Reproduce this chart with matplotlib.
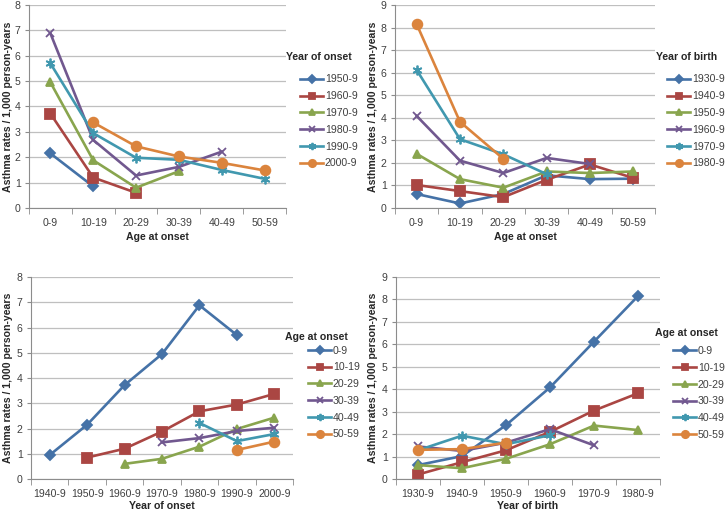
import numpy as np
import matplotlib
matplotlib.use("Agg")
import matplotlib.pyplot as plt

plt.rcParams['font.family'] = ['Liberation Sans', 'DejaVu Sans']

nan = np.nan

# panel A: rates by age at onset, per year of onset
age_groups = ["0-9", "10-19", "20-29", "30-39", "40-49", "50-59"]
onset_labels = ["1950-9", "1960-9", "1970-9", "1980-9", "1990-9", "2000-9"]
onset_1950 = [2.15, 0.85, nan, nan, nan, nan]
onset_1960 = [3.72, 1.20, 0.60, nan, nan, nan]
onset_1970 = [4.95, 1.88, 0.80, 1.45, nan, nan]
onset_1980 = [6.88, 2.68, 1.28, 1.62, 2.22, nan]
onset_1990 = [5.70, 2.95, 1.98, 1.90, 1.50, 1.15]
onset_2000 = [nan, 3.37, 2.43, 2.03, 1.78, 1.48]

# panel B: rates by age at onset, per year of birth
birth_labels = ["1930-9", "1940-9", "1950-9", "1960-9", "1970-9", "1980-9"]
birth_1930 = [0.62, 0.20, 0.62, 1.45, 1.28, 1.30]
birth_1940 = [1.02, 0.75, 0.48, 1.25, 1.93, 1.33]
birth_1950 = [2.40, 1.28, 0.90, 1.62, 1.55, 1.62]
birth_1960 = [4.08, 2.10, 1.55, 2.22, 1.95, nan]
birth_1970 = [6.12, 3.05, 2.38, 1.50, nan, nan]
birth_1980 = [8.15, 3.82, 2.18, nan, nan, nan]

# panel C: rates by year of onset, per age at onset
onset_decades = ["1940-9", "1950-9", "1960-9", "1970-9", "1980-9", "1990-9", "2000-9"]
c_age_0 = [0.95, 2.15, 3.72, 4.95, 6.88, 5.70, nan]
c_age_10 = [nan, 0.85, 1.20, 1.88, 2.68, 2.95, 3.37]
c_age_20 = [nan, nan, 0.60, 0.80, 1.28, 1.98, 2.43]
c_age_30 = [nan, nan, nan, 1.45, 1.62, 1.90, 2.03]
c_age_40 = [nan, nan, nan, nan, 2.22, 1.50, 1.78]
c_age_50 = [nan, nan, nan, nan, nan, 1.15, 1.48]

# panel D: rates by year of birth, per age at onset
d_age_0 = [0.62, 1.02, 2.40, 4.08, 6.12, 8.15]
d_age_10 = [0.20, 0.75, 1.28, 2.10, 3.05, 3.82]
d_age_20 = [0.62, 0.48, 0.90, 1.55, 2.38, 2.18]
d_age_30 = [1.45, 1.25, 1.62, 2.22, 1.50, nan]
d_age_40 = [1.28, 1.93, 1.55, 1.95, nan, nan]
d_age_50 = [1.30, 1.33, 1.62, nan, nan, nan]

colors = ["#4572A7", "#AA4643", "#89A54E", "#71588F", "#4198AF", "#DB843D"]
markers = ["D", "s", "^", "x", (6, 2, 0), "o"]
msizes = [5, 6.5, 6, 6, 7, 7]

W, H = 726, 511
fig = plt.figure(figsize=(W / 100, H / 100), dpi=100)

fs = 7.6
tick_color = "#404040"
axis_color = "#8c8c8c"
grid_color = "#bfbfbf"


def panel(box, cats, series, labels, ymax, xlabel, ylab_x, xpad, title, title_xy, leg_xy):
    l, r, t, b = box
    ax = fig.add_axes([l / W, 1 - b / H, (r - l) / W, (b - t) / H])
    x = np.arange(len(cats))
    for i, ys in enumerate(series):
        ax.plot(x, ys, color=colors[i], lw=1.9, marker=markers[i],
                ms=msizes[i], mew=1.3, label=labels[i])
    ax.set_xlim(-0.5, len(cats) - 0.5)
    ax.set_ylim(0, ymax)
    ax.set_yticks(range(ymax + 1))
    ax.set_xticks(x)
    ax.set_xticklabels(cats)
    ax.set_xticks(np.arange(len(cats) + 1) - 0.5, minor=True)
    ax.tick_params(axis="x", which="major", length=0, labelsize=fs,
                   colors=tick_color, pad=7)
    ax.tick_params(axis="x", which="minor", length=4, color=axis_color)
    ax.tick_params(axis="y", length=3, color=axis_color, labelsize=fs,
                   labelcolor=tick_color, pad=3)
    ax.grid(axis="y", color=grid_color, lw=0.9)
    ax.set_axisbelow(True)
    for s in ["top", "right"]:
        ax.spines[s].set_visible(False)
    for s in ["left", "bottom"]:
        ax.spines[s].set_color(axis_color)
    ax.set_xlabel(xlabel, fontsize=fs, fontweight="bold", color="#262626",
                  labelpad=xpad)
    ax.set_ylabel("Asthma rates / 1,000 person-years", fontsize=fs,
                  fontweight="bold", color="#262626")
    ax.yaxis.set_label_coords((ylab_x - l) / (r - l), 0.5)
    fig.text(title_xy[0] / W, 1 - title_xy[1] / H, title, fontsize=fs,
             fontweight="bold", color="#262626", va="center", ha="left")
    ax.legend(loc="upper left", bbox_to_anchor=(leg_xy[0] / W, 1 - leg_xy[1] / H),
              bbox_transform=fig.transFigure, frameon=False, fontsize=fs,
              handlelength=2.2, handletextpad=0.15, labelspacing=0.64,
              borderpad=0, borderaxespad=0, markerscale=0.75)
    for txt in ax.get_legend().get_texts():
        txt.set_color(tick_color)
    return ax


panel((29, 286, 5, 208), age_groups,
      [onset_1950, onset_1960, onset_1970, onset_1980, onset_1990, onset_2000],
      onset_labels, 8, "Age at onset", 13, 3, "Year of onset", (286, 57), (300, 74.5))
panel((395, 655, 5, 208), age_groups,
      [birth_1930, birth_1940, birth_1950, birth_1960, birth_1970, birth_1980],
      birth_labels, 9, "Age at onset", 378, 3, "Year of birth", (656, 57), (667, 74.5))
panel((31, 293, 277, 479), onset_decades,
      [c_age_0, c_age_10, c_age_20, c_age_30, c_age_40, c_age_50],
      age_groups, 8, "Year of onset", 13, 1.5, "Age at onset", (285, 337), (308, 345.5))
panel((396, 660, 277, 479), birth_labels,
      [d_age_0, d_age_10, d_age_20, d_age_30, d_age_40, d_age_50],
      age_groups, 9, "Year of birth", 378, 1.5, "Age at onset", (655, 333), (673, 346))

fig.savefig("out.png", dpi=100)
